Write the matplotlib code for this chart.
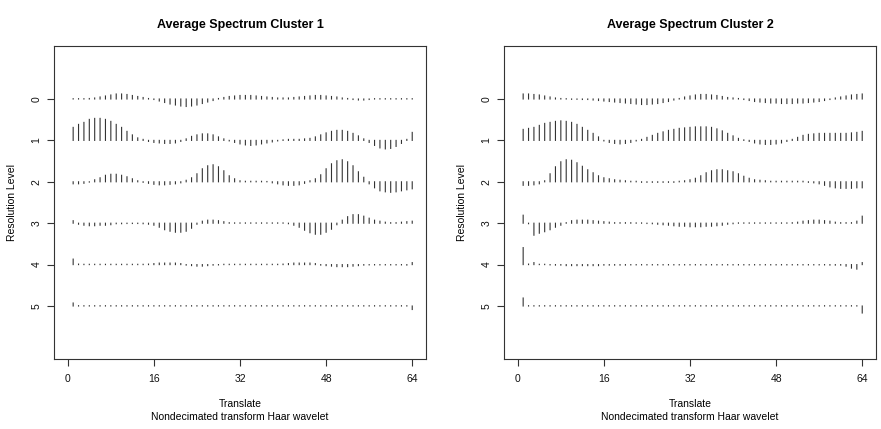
import numpy as np
import matplotlib.pyplot as plt

plt.rcParams['font.family'] = ['Liberation Sans', 'DejaVu Sans']

# translate positions and resolution levels
translate = np.arange(1, 65)
levels = [0, 1, 2, 3, 4, 5]
titles = ['Average Spectrum Cluster 1', 'Average Spectrum Cluster 2']
xticks = [0, 16, 32, 48, 64]

# coefficient heights (positive = drawn upward)
c1_l0 = [0.3, 0.3, 0.3, 0.5, 1, 2, 3, 4, 5, 5,
         4.5, 3.5, 2.5, 1.5, 0.5, -0.5, -2, -3.5, -5, -6,
         -7, -7.5, -7, -6, -4.5, -3, -1.5, 0.5, 1.5, 2.5,
         3, 3.5, 3.5, 3.5, 3, 2.5, 2, 1.5, 1, 1,
         1, 1.5, 2, 2.5, 3, 3.5, 3.5, 3, 2.5, 2,
         1, 0.5, -0.5, -1, -1, -0.5, 0.3, 0.3, 0.3, 0.3,
         0.3, 0.3, 0.3, 0.3]
c1_l1 = [13, 16, 18, 21, 22, 22, 21, 19, 16, 13,
         9, 5.5, 2.5, 1, -1, -2, -2.5, -3, -3, -2.5,
         -1, 1.5, 4, 5.5, 6.5, 6.5, 5.5, 3.5, 1.5, -0.5,
         -2, -3.5, -4.5, -5, -4.5, -3.5, -2.5, -1.5, -0.5, 0.5,
         1, 1, 1, 1.5, 2, 3.5, 5.5, 7.5, 9, 10,
         10, 9, 7, 4.5, 1.5, -2, -5, -7.5, -8.5, -8,
         -6, -3, 1, 8]
c1_l2 = [-2, -2, -1.5, -0.3, 2, 4, 6.5, 7.5, 7.5, 6.5,
         5, 3, 1, -0.5, -1.5, -2.5, -3, -3, -2.5, -2,
         -1, 1.5, 4, 8, 13, 16, 17, 15, 11, 6,
         3, 1, 0.5, 0.5, 0.5, 0.5, 0.3, -1, -2, -3,
         -3.5, -3.5, -3, -1.5, 1, 3, 7, 13, 18, 21,
         22, 20, 16, 10, 4.5, -2, -6, -9, -10, -10.5,
         -10, -9, -8, -7]
c1_l3 = [2.5, -1, -2, -2.5, -2.5, -2, -2, -1.5, -0.5, -0.5,
         -0.3, -0.3, -0.3, -0.5, -1, -2, -4, -6.5, -8, -9,
         -9, -8, -5, -1, 2, 3, 3, 2.5, 1.5, 0.5,
         0.3, 0.3, 0.3, 0.3, 0.3, 0.3, 0.3, 0.3, 0.3, 0.3,
         -0.5, -2, -4, -7, -9.5, -11, -11, -9, -6, -1.5,
         3, 6.5, 8.5, 8.5, 7, 5, 3, 2, 1, 0.5,
         0.5, 1, 1.5, 2]
c1_l4 = [5.5, 0.5, 0.3, 0.3, 0.3, 0.3, 0.3, 0.3, 0.3, 0.3,
         0.3, 0.3, 0.3, 0.3, 0.5, 1, 1.5, 1.5, 1.5, 1.5,
         1, -0.5, -1, -1.5, -1.5, -1, -0.5, -0.3, 0.3, 0.3,
         0.3, 0.3, 0.3, 0.3, 0.3, 0.3, 0.3, 0.3, 0.3, 0.5,
         1, 1.5, 1.5, 1.5, 1.5, 1, -0.5, -1, -1.5, -2,
         -2, -2, -1.5, -1, -0.5, -0.3, -0.3, -0.3, -0.3, -0.3,
         -0.3, -0.3, -0.5, 2]
c1_l5 = [3, 0.3, 0.3, 0.3, 0.3, 0.3, 0.3, 0.3, 0.3, 0.3,
         0.3, 0.3, 0.3, 0.3, 0.3, 0.3, 0.3, 0.3, 0.3, 0.3,
         0.3, 0.3, 0.3, 0.3, 0.3, 0.3, 0.3, 0.3, 0.3, 0.3,
         0.3, 0.3, 0.3, 0.3, 0.3, 0.3, 0.3, 0.3, 0.3, 0.3,
         0.3, 0.3, 0.3, 0.3, 0.3, 0.3, 0.3, 0.3, 0.3, 0.3,
         0.3, 0.3, 0.3, 0.3, 0.3, 0.3, 0.3, 0.3, 0.3, 0.3,
         0.3, 0.3, 0.3, -3.5]

c2_l0 = [5, 5, 4.5, 4, 3, 2, 1, 0.5, 0.3, -0.3,
         -0.3, -0.5, -0.5, -1, -1.5, -2, -2.5, -3, -3.5, -4,
         -4.5, -5, -5.5, -5.5, -5, -4.5, -3.5, -2.5, -1, 0.5,
         2, 3, 4, 4.5, 4.5, 4, 3.5, 2.5, 1.5, 1,
         0.5, -0.5, -1.5, -2.5, -3, -3.5, -4, -4, -4.5, -4.5,
         -4.5, -4, -4, -3.5, -3, -2.5, -1.5, -0.5, 1, 2,
         3, 4, 4.5, 5]
c2_l1 = [11, 12, 13, 15, 17, 18, 19, 19.5, 19, 18,
         16, 13, 10, 7, 3.5, -0.5, -2, -3, -3.5, -3,
         -2, -0.5, 1, 3, 5, 7, 8.5, 10, 11, 12,
         12.5, 13, 13.5, 13.5, 13.5, 13, 11.5, 9.5, 7, 4.5,
         2, 0.5, -1, -2.5, -3.5, -4, -4, -3.5, -2.5, -1,
         1, 3, 5, 6, 6.5, 7, 7, 7, 7, 7,
         7, 7.5, 8, 9]
c2_l2 = [-3.5, -3.5, -3, -2, 1, 8, 15, 20, 22, 21.5,
         19, 15.5, 12, 9, 6, 4, 3, 2, 1.5, 1,
         0.5, 0.5, -0.5, -0.5, -0.5, -0.5, -0.5, -0.5, -0.5, 0.5,
         1, 2, 3.5, 6, 9, 11, 12, 12, 11, 10,
         8, 5.5, 3.5, 2, 1.5, 1, 0.5, 0.5, 0.5, 0.5,
         0.5, 0.5, 0.5, -0.5, -1, -2, -3.5, -5, -6, -6.5,
         -6.5, -6.5, -6, -6]
c2_l3 = [8, -0.5, -12, -10, -8.5, -6.5, -4, -2, 0.5, 2.5,
         3, 3, 3, 2.5, 2, 1.5, 1, 0.5, 0.5, 0.5,
         0.5, 0.3, 0.3, -0.3, -0.5, -1, -1.5, -2, -2.5, -3,
         -3, -3.5, -3.5, -3.5, -3, -3, -2.5, -2, -1, -0.5,
         0.3, 0.3, 0.3, 0.3, 0.3, 0.3, 0.3, 0.3, 0.3, 0.3,
         0.5, 1, 2, 2.5, 3, 3, 2.5, 2, 1, 0.5,
         0.5, 0.5, 2, 7]
c2_l4 = [17, 0.5, 2, 0.3, 0.3, -0.3, -0.5, -0.5, -1, -1,
         -1, -1, -1, -1, -1, -0.5, -0.5, -0.5, -0.5, -0.5,
         -0.3, -0.3, -0.3, -0.3, -0.3, -0.3, -0.3, -0.3, -0.3, -0.3,
         -0.3, -0.3, -0.3, -0.3, -0.3, -0.3, -0.3, -0.3, -0.3, -0.3,
         -0.3, -0.3, -0.3, -0.3, -0.3, -0.3, -0.3, -0.3, -0.3, -0.3,
         -0.3, -0.3, -0.3, -0.3, -0.3, -0.3, -0.3, -0.5, -0.5, -0.5,
         -1.5, -3.5, -4.5, 2]
c2_l5 = [8, 0.3, 0.3, 0.3, 0.3, 0.3, 0.3, 0.3, 0.3, 0.3,
         0.3, 0.3, 0.3, 0.3, 0.3, 0.3, 0.3, 0.3, 0.3, 0.3,
         0.3, 0.3, 0.3, 0.3, 0.3, 0.3, 0.3, 0.3, 0.3, 0.3,
         0.3, 0.3, 0.3, 0.3, 0.3, 0.3, 0.3, 0.3, 0.3, 0.3,
         0.3, 0.3, 0.3, 0.3, 0.3, 0.3, 0.3, 0.3, 0.3, 0.3,
         0.3, 0.3, 0.3, 0.3, 0.3, 0.3, 0.3, 0.3, 0.3, 0.3,
         0.3, 0.3, 0.3, -7]

cluster1 = [c1_l0, c1_l1, c1_l2, c1_l3, c1_l4, c1_l5]
cluster2 = [c2_l0, c2_l1, c2_l2, c2_l3, c2_l4, c2_l5]

scale = 1 / 41.4  # heights are in pixels of the original, one level = 41.4 px

fig = plt.figure(figsize=(8.81, 4.29), dpi=100)
ax1 = fig.add_axes([54 / 881, 1 - 359 / 429, 372 / 881, 313 / 429])
ax2 = fig.add_axes([504 / 881, 1 - 359 / 429, 372 / 881, 313 / 429])

for ax, data, title in zip([ax1, ax2], [cluster1, cluster2], titles):
    for lev, vals in zip(levels, data):
        v = np.array(vals)
        ax.vlines(translate, lev, lev - v * scale, colors='#333333',
                  linewidth=0.8, capstyle='projecting', snap=False)
    ax.set_xlim(-2.56, 66.56)
    ax.set_ylim(6.28, -1.28)
    ax.set_xticks(xticks)
    ax.set_yticks(levels)
    ax.set_yticklabels([str(l) for l in levels], rotation=90, va='center')
    ax.tick_params(axis='both', direction='out', length=5, width=0.8,
                   labelsize=7.5, color='#333', labelcolor='#111')
    ax.tick_params(axis='x', pad=6)
    ax.tick_params(axis='y', pad=4)
    for s in ax.spines.values():
        s.set_color('#333')
        s.set_linewidth(0.8)
    ax.text(0.5, 1.068, title, transform=ax.transAxes, ha='center',
            va='center', fontsize=9, fontweight='bold')
    ax.text(0.5, -0.1438, 'Translate', transform=ax.transAxes,
            ha='center', va='center', fontsize=7.5)
    ax.text(0.5, -0.185, 'Nondecimated transform Haar wavelet',
            transform=ax.transAxes, ha='center', va='center', fontsize=7.5)
    ax.text(-0.113, 0.5, 'Resolution Level', transform=ax.transAxes,
            ha='center', va='center', rotation=90, fontsize=7.5)

fig.savefig('out.png', dpi=100)
